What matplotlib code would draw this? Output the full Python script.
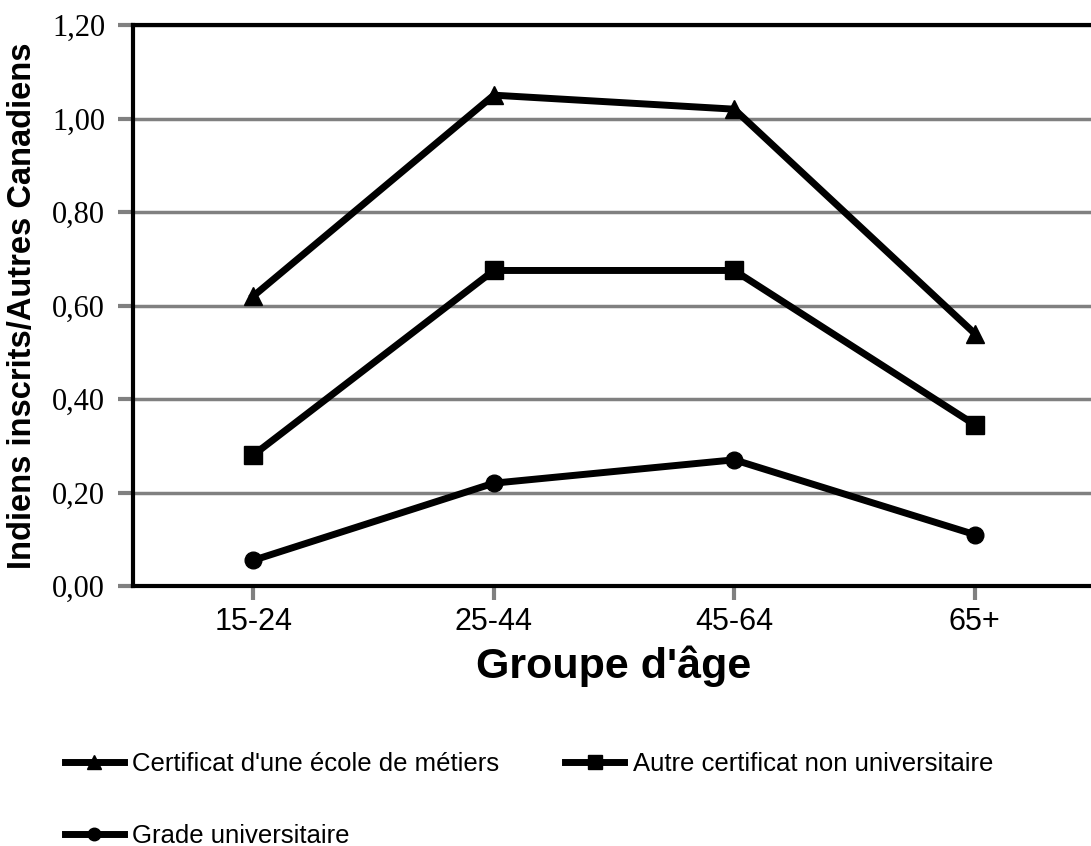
import matplotlib.pyplot as plt

groupes = ["15-24", "25-44", "45-64", "65+"]
certificat_metiers = [0.62, 1.05, 1.02, 0.54]
autre_certificat = [0.28, 0.675, 0.675, 0.345]
grade_univ = [0.055, 0.22, 0.27, 0.11]
yticks = [0.0, 0.2, 0.4, 0.6, 0.8, 1.0, 1.2]
ytick_labels = ["0,00", "0,20", "0,40", "0,60", "0,80", "1,00", "1,20"]

fig = plt.figure(figsize=(10.91, 8.46), dpi=100)
ax = fig.add_axes([0.1219, 0.3073, 0.8818, 0.6631])

x = range(len(groupes))
l1, = ax.plot(x, certificat_metiers, color="black", lw=5, marker="^", ms=13,
              label="Certificat d'une école de métiers")
l2, = ax.plot(x, autre_certificat, color="black", lw=5, marker="s", ms=13,
              label="Autre certificat non universitaire")
l3, = ax.plot(x, grade_univ, color="black", lw=5, marker="o", ms=12,
              label="Grade universitaire")

ax.set_xlim(-0.5, 3.5)
ax.set_ylim(0, 1.2)
ax.set_yticks(yticks)
ax.set_yticklabels(ytick_labels, fontfamily="Liberation Serif", fontsize=22)
ax.set_xticks(list(x))
ax.set_xticklabels(groupes, fontfamily="Liberation Sans", fontsize=22)
ax.tick_params(axis="both", color="#808080", width=3, direction="out")
ax.tick_params(axis="y", length=11, pad=9)
ax.tick_params(axis="x", length=10, pad=5)
ax.yaxis.grid(True, color="#808080", lw=2.5)
ax.set_axisbelow(True)
for side in ["left", "top", "bottom"]:
    ax.spines[side].set_linewidth(3)
ax.spines["right"].set_visible(False)

ax.set_ylabel("Indiens inscrits/Autres Canadiens", fontfamily="Liberation Sans",
              fontweight="bold", fontsize=23.5)
ax.yaxis.set_label_coords(-0.099, 0.5)
ax.set_xlabel("Groupe d'âge", fontfamily="Liberation Sans", fontweight="bold",
              fontsize=31, labelpad=6)

fig.legend([l1, l3, l2], [l1.get_label(), l3.get_label(), l2.get_label()],
           ncol=2, loc="upper left", bbox_to_anchor=(0.05, 0.1233),
           frameon=False, prop={"family": "Liberation Sans", "size": 18.5},
           handlelength=2.3, handletextpad=0.33, columnspacing=2.55,
           labelspacing=1.85, markerscale=0.75, borderaxespad=0)

fig.savefig("out.png", dpi=100)
